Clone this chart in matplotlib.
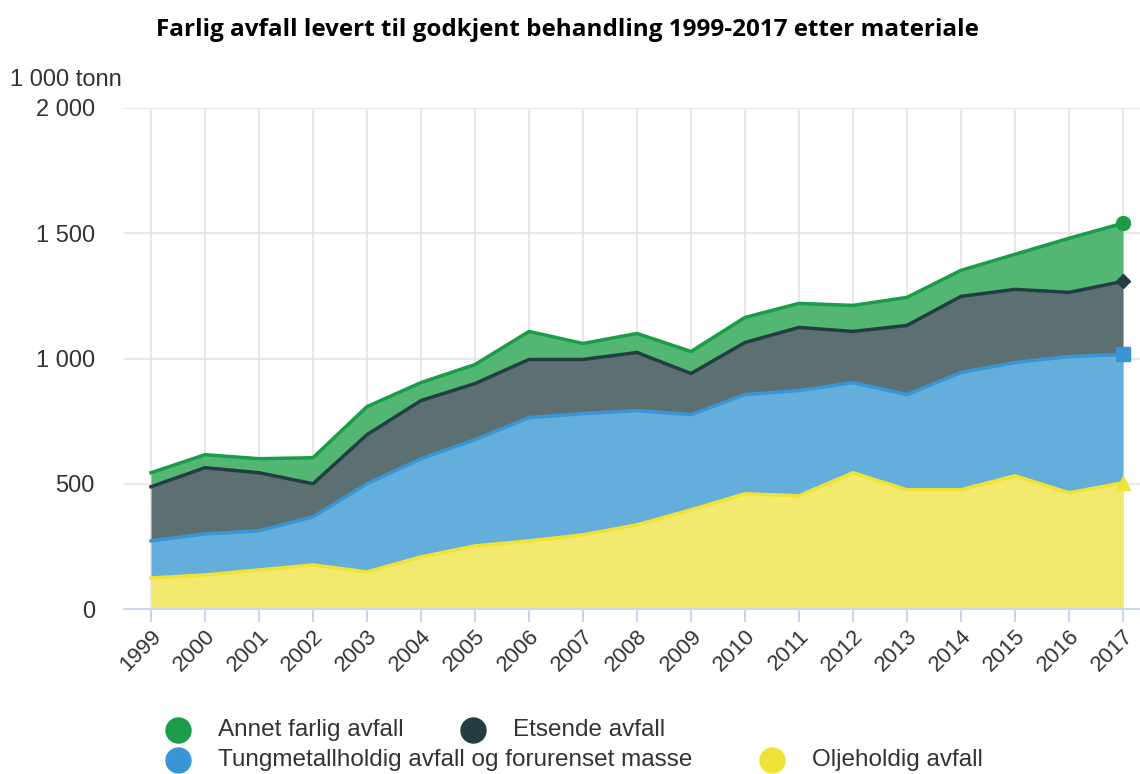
import numpy as np
import matplotlib.pyplot as plt
from matplotlib.lines import Line2D
from matplotlib.ticker import FuncFormatter

# Data (1 000 tonn)
years = list(range(1999, 2018))
oljeholdig = [124, 136, 156, 176, 148, 208, 252, 272, 296, 336, 396, 460, 452, 544, 476, 476, 532, 464, 504]
tungmetall = [148, 164, 156, 192, 352, 392, 424, 492, 484, 456, 380, 396, 420, 360, 380, 468, 452, 544, 512]
etsende = [216, 264, 232, 132, 196, 232, 224, 232, 216, 232, 164, 208, 252, 204, 276, 304, 292, 256, 292]
annet = [56, 52, 56, 104, 112, 72, 76, 112, 64, 76, 88, 100, 96, 104, 112, 104, 140, 216, 232]

labels = ["Oljeholdig avfall", "Tungmetallholdig avfall og forurenset masse",
          "Etsende avfall", "Annet farlig avfall"]
line_colors = ["#f0e236", "#3a95d4", "#243d42", "#1a9c48"]
fill_colors = ["#f2ea6e", "#63aedb", "#5c6f71", "#53b673"]
end_markers = ["^", "s", "D", "o"]

plt.rcParams['font.family'] = ['Liberation Sans', 'DejaVu Sans']

fig = plt.figure(figsize=(11.4, 7.74), dpi=100)
ax = fig.add_axes([124 / 1140, (774 - 609) / 774, 1026 / 1140, 501 / 774])

x = np.array(years)
bottom = np.zeros(len(years))
for vals, lc, fc, mk in zip([oljeholdig, tungmetall, etsende, annet], line_colors, fill_colors, end_markers):
    top = bottom + np.array(vals)
    ax.fill_between(x, bottom, top, color=fc, linewidth=0, zorder=2)
    ax.plot(x, top, color=lc, linewidth=2.5, zorder=3, solid_joinstyle='round')
    ms = 10 if mk != "D" else 7.5
    ax.plot(x[-1], top[-1], marker=mk, color=lc, markersize=ms, zorder=4, clip_on=False)
    bottom = top

ax.set_xlim(1998.5, 2017.5)
ax.set_ylim(0, 2000)
ax.set_xticks(years)
ax.set_xticklabels([str(y) for y in years], rotation=45, ha='right', rotation_mode='anchor',
                   fontsize=16, color='#333333')
ax.set_yticks([0, 500, 1000, 1500, 2000])
ax.yaxis.set_major_formatter(FuncFormatter(lambda v, p: f"{int(v):,}".replace(",", " ")))
ax.tick_params(axis='y', length=0, labelsize=17, labelcolor='#333333', pad=21)
ax.tick_params(axis='x', length=9, color='#ccd6eb', width=1.5, pad=3)
ax.grid(True, color='#e6e6e6', linewidth=1.3, zorder=0)
ax.set_axisbelow(True)
for s in ['top', 'right', 'left']:
    ax.spines[s].set_visible(False)
ax.spines['bottom'].set_color('#ccd6eb')
ax.spines['bottom'].set_linewidth(1.5)

fig.text(567 / 1140, 1 - 30 / 774, "Farlig avfall levert til godkjent behandling 1999-2017 etter materiale",
         ha='center', va='center', fontsize=17.5, fontweight='bold', family=['Open Sans', 'DejaVu Sans'])
fig.text(10 / 1140, 1 - 80 / 774, "1 000 tonn", ha='left', va='center', fontsize=17, color='#333333')

# legend, laid out as in the original
legend_items = [(178, 730, 218, "Annet farlig avfall", line_colors[3]),
                (473, 730, 513, "Etsende avfall", line_colors[2]),
                (178, 760, 218, "Tungmetallholdig avfall og forurenset masse", line_colors[1]),
                (772, 760, 812, "Oljeholdig avfall", line_colors[0])]
for mx, my, tx, txt, c in legend_items:
    fig.add_artist(Line2D([mx / 1140], [1 - my / 774], marker='o', markersize=18,
                          color=c, linestyle='none', transform=fig.transFigure))
    fig.text(tx / 1140, 1 - my / 774, txt, ha='left', va='center', fontsize=17.5, color='#333333')

plt.savefig("out.png", dpi=100)
